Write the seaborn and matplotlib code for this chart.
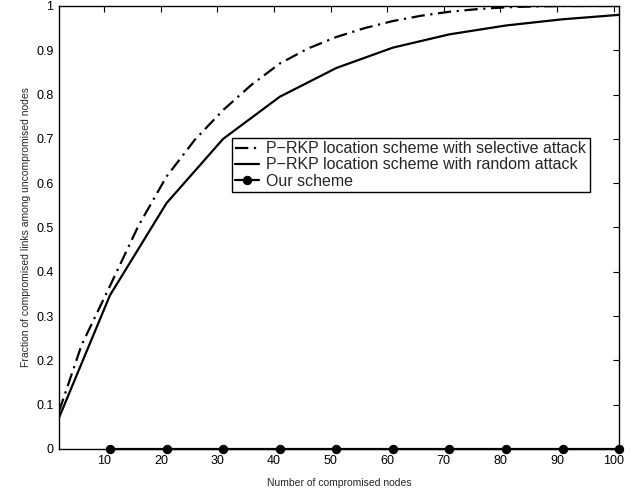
import matplotlib
matplotlib.use("Agg")
import matplotlib.pyplot as plt
import numpy as np
import pandas as pd
import seaborn as sns

# values
random_x = [1, 11, 21, 31, 41, 51, 61, 71, 81, 91, 101]
random_y = [0.04, 0.347, 0.555, 0.70, 0.795, 0.86, 0.906, 0.936, 0.956, 0.97, 0.98]

selective_x = [2, 6, 11, 16, 21, 26, 31, 36, 41, 46, 51, 56, 61, 66, 71, 76, 81, 86, 91, 96, 101]
selective_y = [0.085, 0.235, 0.368, 0.503, 0.615, 0.698, 0.765, 0.822, 0.87, 0.904, 0.93,
               0.95, 0.966, 0.978, 0.987, 0.993, 0.997, 0.999, 1.0, 1.0, 1.0]

ours_x = [11, 21, 31, 41, 51, 61, 71, 81, 91, 101]
ours_y = [0, 0, 0, 0, 0, 0, 0, 0, 0, 0]

labels = [
    "P\u2212RKP location scheme with selective attack",
    "P\u2212RKP location scheme with random attack",
    "Our scheme",
]

sns.set_style("white")
plt.rcParams["font.family"] = ["Liberation Sans", "DejaVu Sans"]

fig = plt.figure(figsize=(6.36, 4.94), dpi=100)
ax = fig.add_axes([0.0928, 0.0911, 0.8809, 0.8968])

sel = pd.DataFrame({"x": selective_x, "y": selective_y})
rnd = pd.DataFrame({"x": random_x, "y": random_y})
ours = pd.DataFrame({"x": ours_x, "y": ours_y})

sns.lineplot(data=sel, x="x", y="y", ax=ax, color="black", lw=1.6,
             dashes=False, label=labels[0])
ax.lines[-1].set_dashes([6, 2.5, 1, 2.5])
sns.lineplot(data=rnd, x="x", y="y", ax=ax, color="black", lw=1.6,
             label=labels[1])
sns.lineplot(data=ours, x="x", y="y", ax=ax, color="black", lw=1.6,
             marker="o", markersize=6, markeredgecolor="black",
             label=labels[2], clip_on=False, zorder=5)

ax.set_xlim(2, 101)
ax.set_ylim(0, 1)
ax.set_xticks(np.arange(10, 101, 10))
ax.set_yticks(np.round(np.arange(0, 1.01, 0.1), 1))
ax.set_yticklabels(["0"] + [f"{v:.1f}" for v in np.arange(0.1, 0.95, 0.1)] + ["1"])
ax.tick_params(direction="in", top=True, right=True, length=4, width=0.8,
               labelsize=9, colors="black", pad=4)
for s in ax.spines.values():
    s.set_visible(True)
    s.set_color("black")
    s.set_linewidth(1.0)

ax.set_xlabel("Number of compromised nodes", fontsize=7.5, labelpad=8)
ax.set_ylabel("Fraction of compromised links among uncompromised nodes", fontsize=7.5, labelpad=4)

leg = ax.legend(loc="upper left", bbox_to_anchor=(0.309, 0.702), borderaxespad=0,
                fontsize=11.5, frameon=True, fancybox=False, edgecolor="black",
                handlelength=1.5, handletextpad=0.45, borderpad=0.2, labelspacing=0.08)
leg.get_frame().set_linewidth(1.0)
leg.get_frame().set_alpha(1)

fig.savefig("out.png", dpi=100, facecolor="white")
